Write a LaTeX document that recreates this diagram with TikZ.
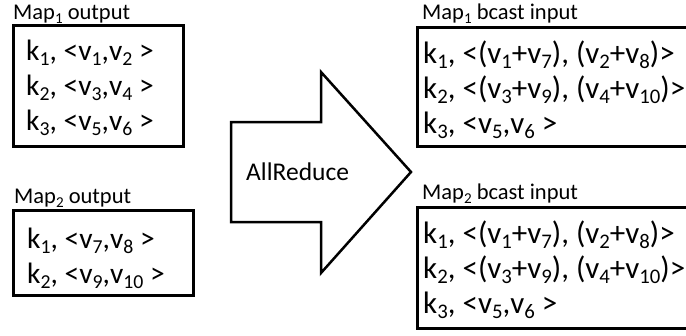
\documentclass[tikz,border=0pt]{standalone}
\usepackage{fontspec}
\setmainfont{Carlito}
\newcommand\lo[1]{\raisebox{-0.18em}{\scalebox{0.67}{#1}}}
\tikzset{
  boxline/.style={draw=black, line width=3pt},
  rowtext/.style={anchor=base west, inner sep=0pt, font=\fontsize{29.5}{36}\selectfont},
  widerow/.style={anchor=base west, inner sep=0pt, font=\fontsize{31}{36}\selectfont},
  labtext/.style={anchor=base west, inner sep=0pt, font=\fontsize{22.5}{26}\selectfont},
  arrowshape/.style={draw=black, line width=2.5pt, line join=miter, fill=white},
}
\begin{document}
\begin{tikzpicture}[x=1pt, y=-1pt]
\useasboundingbox (0,0) rectangle (686,335);
% labels
\node[labtext] (l1) at (13,19) {Map\lo{1} output};
\node[labtext] (l2) at (14,203) {Map\lo{2} output};
\node[labtext] (l3) at (422,19) {Map\lo{1} bcast input};
\node[labtext] (l4) at (422,199) {Map\lo{2} bcast input};
% boxes
\draw[boxline] (13,25) rectangle (183,146);
\draw[boxline] (13,210) rectangle (193,295);
\draw[boxline] (417,27) rectangle (692,146);
\draw[boxline] (417,207) rectangle (692,328);
% box 1
\node[rowtext] (a1) at (26,60) {k\lo{1}, <v\lo{1},v\lo{2} >};
\node[rowtext] (a2) at (26,95) {k\lo{2}, <v\lo{3},v\lo{4} >};
\node[rowtext] (a3) at (26,130) {k\lo{3}, <v\lo{5},v\lo{6} >};
% box 2
\node[rowtext] (c1) at (27,248) {k\lo{1}, <v\lo{7},v\lo{8} >};
\node[rowtext] (c2) at (27,283) {k\lo{2}, <v\lo{9},v\lo{10} >};
% box 3
\node[widerow] (d1) at (423,63) {k\lo{1}, <(v\lo{1}+v\lo{7}), (v\lo{2}+v\lo{8})>};
\node[widerow] (d2) at (423,98) {k\lo{2}, <(v\lo{3}+v\lo{9}), (v\lo{4}+v\lo{10})>};
\node[widerow] (d3) at (423,133) {k\lo{3}, <v\lo{5},v\lo{6} >};
% box 4
\node[widerow] (e1) at (423,243) {k\lo{1}, <(v\lo{1}+v\lo{7}), (v\lo{2}+v\lo{8})>};
\node[widerow] (e2) at (423,278) {k\lo{2}, <(v\lo{3}+v\lo{9}), (v\lo{4}+v\lo{10})>};
\node[widerow] (e3) at (423,313) {k\lo{3}, <v\lo{5},v\lo{6} >};
% arrow
\draw[arrowshape] (231,122) -- (321,122) -- (321,72) -- (411,172) -- (321,273) -- (321,222) -- (231,222) -- cycle;
\node[anchor=base west, inner sep=0pt, font=\fontsize{25.5}{30}\selectfont] (ar) at (246,180) {AllReduce};
\end{tikzpicture}
\end{document}
